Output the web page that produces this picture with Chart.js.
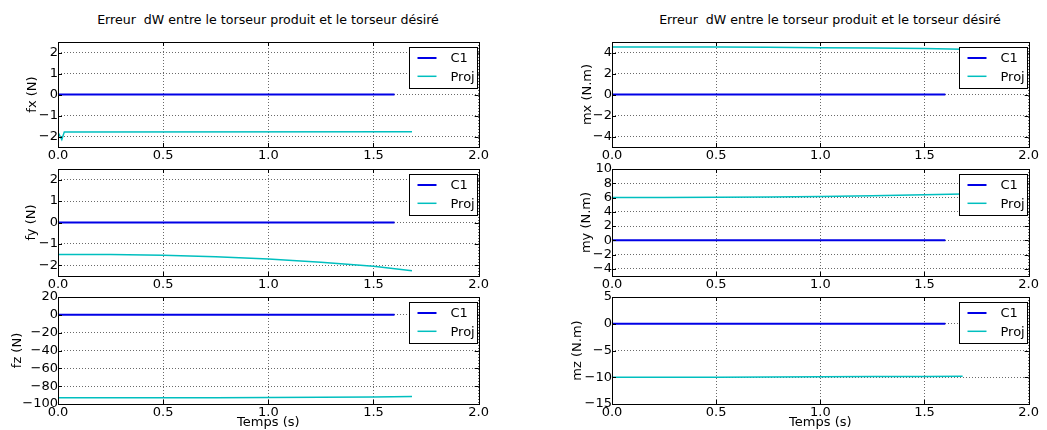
<!DOCTYPE html>
<html>
<head>
<meta charset="utf-8">
<script src="https://cdn.jsdelivr.net/npm/chart.js@4.4.1/dist/chart.umd.min.js"></script>
<style>
    body { margin: 0; background: #fff; width: 1047px; height: 430px; overflow: hidden; position: relative; font-family: "DejaVu Sans", sans-serif; }
    .panneau { position: absolute; }
    .titre { position: absolute; top: 13px; width: 440px; font-size: 12.6px; line-height: 14px; text-align: center; white-space: pre; color: #000; }
</style>
</head>
<body>
<div class="titre" style="left:48px">Erreur  dW entre le torseur produit et le torseur désiré</div>
<div class="titre" style="left:610px">Erreur  dW entre le torseur produit et le torseur désiré</div>

<script>
// ===============================
// DONNÉES
// ===============================
const tempsC1 = [0, 1.6];
const erreurC1 = [0, 0];

const tempsProjFx = [0, 0.018, 0.03, 1.683];
const projFx = [-1.80, -2.15, -1.78, -1.77];

const tempsProj = [0, 0.25, 0.5, 0.75, 1.0, 1.25, 1.5, 1.683];
const projFy = [-1.49, -1.50, -1.53, -1.60, -1.71, -1.86, -2.04, -2.26];
const projFz = [-93.0, -93.0, -93.0, -92.9, -92.8, -92.5, -92.1, -91.5];
const projMx = [4.53, 4.53, 4.52, 4.50, 4.46, 4.42, 4.37, 4.31];
const projMy = [6.00, 6.02, 6.05, 6.09, 6.15, 6.25, 6.40, 6.50];
const projMz = [-10.0, -10.0, -10.0, -9.95, -9.92, -9.88, -9.84, -9.80];

const ticksTemps = [0, 0.5, 1.0, 1.5, 2.0];
const ticksF = [-2, -1, 0, 1, 2];
const ticksFz = [-100, -80, -60, -40, -20, 0, 20];
const ticksMx = [-4, -2, 0, 2, 4];
const ticksMy = [-4, -2, 0, 2, 4, 6, 8, 10];
const ticksMz = [-15, -10, -5, 0, 5];

// ===============================
// MISE EN PAGE
// ===============================
const colonnes = [
    { left: 0, width: 490, axeY: 58, droite: 10 },
    { left: 520, width: 520, axeY: 92, droite: 10 }
];
const lignes = [
    { top: 42, bottom: 147, axeX: 16 },
    { top: 169, bottom: 276, axeX: 16 },
    { top: 297, bottom: 404, axeX: 26 }
];

const panneaux = [
    { col: 0, row: 0, label: 'fx (N)', min: -2.5, max: 2.5, ticks: ticksF, tProj: tempsProjFx, proj: projFx, padTitre: 25 },
    { col: 0, row: 1, label: 'fy (N)', min: -2.5, max: 2.5, ticks: ticksF, tProj: tempsProj, proj: projFy, padTitre: 24 },
    { col: 0, row: 2, label: 'fz (N)', min: -100, max: 20, ticks: ticksFz, tProj: tempsProj, proj: projFz, padTitre: 10 },
    { col: 1, row: 0, label: 'mx (N.m)', min: -5, max: 5, ticks: ticksMx, tProj: tempsProj, proj: projMx, padTitre: 60 },
    { col: 1, row: 1, label: 'my (N.m)', min: -5, max: 10, ticks: ticksMy, tProj: tempsProj, proj: projMy, padTitre: 59 },
    { col: 1, row: 2, label: 'mz (N.m)', min: -15, max: 5, ticks: ticksMz, tProj: tempsProj, proj: projMz, padTitre: 50 }
];

const POLICE = '"DejaVu Sans", sans-serif';
const GRILLE = { color: '#6a6a6a', drawTicks: false, lineWidth: 1 };

function formatMoins(v) {
    return v < 0 ? '\u2212' + Math.abs(v) : String(v);
}

// cadre, petits traits de graduation intérieurs et légende dans la zone du graphe
const cadreLegende = {
    id: 'cadreLegende',
    afterDatasetsDraw(chart) {
        const ctx = chart.ctx;
        const a = chart.chartArea;
        const sx = chart.scales.x, sy = chart.scales.y;
        ctx.save();
        ctx.strokeStyle = '#000';
        ctx.lineWidth = 1;
        ctx.beginPath();
        sx.ticks.forEach(t => {
            const px = Math.round(sx.getPixelForValue(t.value)) + 0.5;
            ctx.moveTo(px, a.bottom); ctx.lineTo(px, a.bottom - 4);
            ctx.moveTo(px, a.top); ctx.lineTo(px, a.top + 4);
        });
        sy.ticks.forEach(t => {
            const py = Math.round(sy.getPixelForValue(t.value)) + 0.5;
            ctx.moveTo(a.left, py); ctx.lineTo(a.left + 4, py);
            ctx.moveTo(a.right, py); ctx.lineTo(a.right - 4, py);
        });
        ctx.stroke();
        ctx.strokeRect(Math.round(a.left) + 0.5, Math.round(a.top) + 0.5,
            Math.round(a.right - a.left), Math.round(a.bottom - a.top));

        // légende
        ctx.font = '13px ' + POLICE;
        const ds = chart.data.datasets;
        const largeurTexte = Math.max(...ds.map(d => ctx.measureText(d.label).width));
        const w = Math.round(41 + largeurTexte + 3);
        const h = 41;
        const x = Math.round(a.right - 2 - w) + 0.5;
        const y = Math.round(a.top + 5) + 0.5;
        ctx.fillStyle = '#fff';
        ctx.fillRect(x, y, w, h);
        ctx.strokeStyle = '#000';
        ctx.strokeRect(x, y, w, h);
        ds.forEach((d, i) => {
            const yy = y + 10.5 + i * 18.3;
            ctx.strokeStyle = d.borderColor;
            ctx.lineWidth = d.borderWidth;
            ctx.beginPath();
            ctx.moveTo(x + 8, yy); ctx.lineTo(x + 27, yy);
            ctx.stroke();
            ctx.fillStyle = '#000';
            ctx.textBaseline = 'middle';
            ctx.fillText(d.label, x + 41, yy + 1);
        });
        ctx.restore();
    }
};

function points(xs, ys) {
    return xs.map((x, i) => ({ x: x, y: ys[i] }));
}

panneaux.forEach(p => {
    const c = colonnes[p.col];
    const r = lignes[p.row];
    const haut = 10;
    const hauteur = haut + (r.bottom - r.top) + r.axeX;

    const div = document.createElement('div');
    div.className = 'panneau';
    div.style.left = c.left + 'px';
    div.style.top = (r.top - haut) + 'px';
    const canvas = document.createElement('canvas');
    canvas.width = c.width;
    canvas.height = hauteur;
    canvas.style.width = c.width + 'px';
    canvas.style.height = hauteur + 'px';
    div.appendChild(canvas);
    document.body.appendChild(div);

    const derniere = p.row === 2;

    new Chart(canvas.getContext('2d'), {
        type: 'line',
        data: {
            datasets: [
                {
                    label: 'C1',
                    data: points(tempsC1, erreurC1),
                    borderColor: '#0000e6',
                    borderWidth: 2,
                    pointRadius: 0,
                    tension: 0
                },
                {
                    label: 'Proj',
                    data: points(p.tProj, p.proj),
                    borderColor: '#00bfbf',
                    borderWidth: 1.5,
                    pointRadius: 0,
                    tension: 0
                }
            ]
        },
        options: {
            responsive: false,
            animation: false,
            layout: { padding: { top: haut, right: c.droite, left: 0, bottom: 0 } },
            plugins: {
                legend: { display: false },
                tooltip: { enabled: false },
                title: { display: false }
            },
            scales: {
                x: {
                    type: 'linear',
                    min: 0,
                    max: 2,
                    afterBuildTicks: s => { s.ticks = ticksTemps.map(v => ({ value: v })); },
                    afterFit: s => { s.height = r.axeX; },
                    grid: GRILLE,
                    border: { display: false, dash: [1, 2] },
                    ticks: {
                        autoSkip: false,
                        maxRotation: 0,
                        padding: 1,
                        color: '#000',
                        font: { family: POLICE, size: 13 },
                        callback: v => v.toFixed(1)
                    },
                    title: {
                        display: derniere,
                        text: 'Temps (s)',
                        color: '#000',
                        padding: 0,
                        font: { family: POLICE, size: 13 }
                    }
                },
                y: {
                    min: p.min,
                    max: p.max,
                    afterBuildTicks: s => { s.ticks = p.ticks.map(v => ({ value: v })); },
                    afterFit: s => { s.width = c.axeY; },
                    grid: GRILLE,
                    border: { display: false, dash: [1, 2] },
                    ticks: {
                        autoSkip: false,
                        padding: 0,
                        color: '#000',
                        font: { family: POLICE, size: 13 },
                        callback: v => formatMoins(v)
                    },
                    title: {
                        display: true,
                        text: p.label,
                        color: '#000',
                        padding: { top: p.padTitre, bottom: 0 },
                        font: { family: POLICE, size: 13 }
                    }
                }
            }
        },
        plugins: [cadreLegende]
    });
});
</script>
</body>
</html>
